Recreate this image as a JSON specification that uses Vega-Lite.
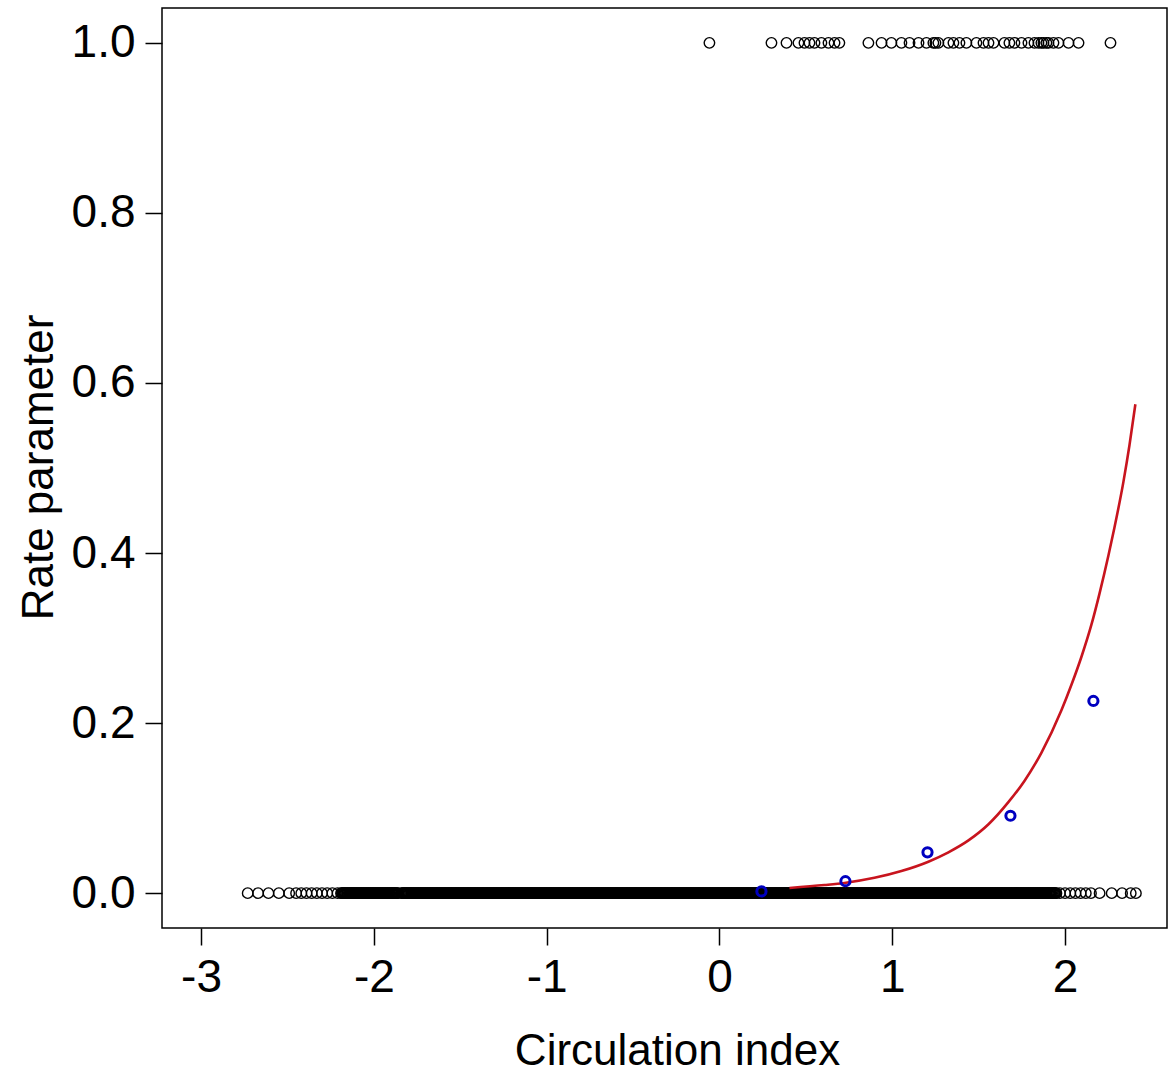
{
  "$schema": "https://vega.github.io/schema/vega-lite/v6.json",
  "autosize": {"type": "none"},
  "padding": {"left": 162, "top": 8, "right": 7, "bottom": 146},
  "width": 1005,
  "height": 920,
  "background": "white",
  "config": {
    "view": {"stroke": "black", "strokeWidth": 1.5},
    "font": "Liberation Sans"
  },
  "datasets": {
    "obs": [
      {"x":-0.058,"y":1},{"x":0.301,"y":1},{"x":0.388,"y":1},{"x":0.457,"y":1},{"x":0.492,"y":1},{"x":0.521,"y":1},{"x":0.55,"y":1},{"x":0.59,"y":1},{"x":0.631,"y":1},{"x":0.666,"y":1},{"x":0.694,"y":1},
      {"x":0.862,"y":1},{"x":0.938,"y":1},{"x":0.995,"y":1},{"x":1.053,"y":1},{"x":1.1,"y":1},{"x":1.152,"y":1},{"x":1.198,"y":1},{"x":1.238,"y":1},{"x":1.25,"y":1},{"x":1.267,"y":1},
      {"x":1.325,"y":1},{"x":1.354,"y":1},{"x":1.389,"y":1},{"x":1.429,"y":1},{"x":1.487,"y":1},{"x":1.528,"y":1},{"x":1.557,"y":1},{"x":1.586,"y":1},
      {"x":1.649,"y":1},{"x":1.678,"y":1},{"x":1.707,"y":1},{"x":1.748,"y":1},{"x":1.788,"y":1},{"x":1.823,"y":1},{"x":1.846,"y":1},{"x":1.863,"y":1},{"x":1.875,"y":1},{"x":1.892,"y":1},{"x":1.904,"y":1},{"x":1.933,"y":1},{"x":1.962,"y":1},{"x":2.02,"y":1},{"x":2.078,"y":1},{"x":2.263,"y":1},
      {"x":-2.73,"y":0},{"x":-2.67,"y":0},{"x":-2.61,"y":0},{"x":-2.55,"y":0},{"x":-2.49,"y":0},{"x":-2.45,"y":0},{"x":-2.42,"y":0},{"x":-2.39,"y":0},{"x":-2.36,"y":0},{"x":-2.33,"y":0},{"x":-2.3,"y":0},{"x":-2.27,"y":0},{"x":-2.24,"y":0},{"x":-2.21,"y":0},
      {"x":-2.19,"y":0},{"x":-2.18,"y":0},{"x":-2.17,"y":0},{"x":-2.16,"y":0},{"x":-2.15,"y":0},{"x":-2.14,"y":0},{"x":-2.13,"y":0},{"x":-2.12,"y":0},{"x":-2.11,"y":0},{"x":-2.1,"y":0},
      {"x":-2.09,"y":0},{"x":-2.08,"y":0},{"x":-2.07,"y":0},{"x":-2.06,"y":0},{"x":-2.05,"y":0},{"x":-2.04,"y":0},{"x":-2.03,"y":0},{"x":-2.02,"y":0},{"x":-2.01,"y":0},{"x":-2.0,"y":0},
      {"x":-1.99,"y":0},{"x":-1.98,"y":0},{"x":-1.97,"y":0},{"x":-1.96,"y":0},{"x":-1.95,"y":0},{"x":-1.94,"y":0},{"x":-1.93,"y":0},{"x":-1.92,"y":0},{"x":-1.91,"y":0},{"x":-1.9,"y":0},
      {"x":-1.89,"y":0},{"x":-1.88,"y":0},{"x":-1.87,"y":0},{"x":-1.86,"y":0},{"x":-1.84,"y":0},{"x":-1.83,"y":0},{"x":-1.82,"y":0},{"x":-1.81,"y":0},{"x":-1.8,"y":0},
      {"x":-1.79,"y":0},{"x":-1.78,"y":0},{"x":-1.77,"y":0},{"x":-1.76,"y":0},{"x":-1.75,"y":0},{"x":-1.74,"y":0},{"x":-1.73,"y":0},{"x":-1.72,"y":0},{"x":-1.71,"y":0},{"x":-1.7,"y":0},
      {"x":-1.69,"y":0},{"x":-1.68,"y":0},{"x":-1.67,"y":0},{"x":-1.66,"y":0},{"x":-1.65,"y":0},{"x":-1.64,"y":0},{"x":-1.63,"y":0},{"x":-1.62,"y":0},{"x":-1.61,"y":0},{"x":-1.6,"y":0},
      {"x":-1.59,"y":0},{"x":-1.58,"y":0},{"x":-1.57,"y":0},{"x":-1.56,"y":0},{"x":-1.55,"y":0},{"x":-1.54,"y":0},{"x":-1.53,"y":0},{"x":-1.52,"y":0},{"x":-1.51,"y":0},{"x":-1.5,"y":0},
      {"x":-1.49,"y":0},{"x":-1.48,"y":0},{"x":-1.47,"y":0},{"x":-1.46,"y":0},{"x":-1.45,"y":0},{"x":-1.44,"y":0},{"x":-1.43,"y":0},{"x":-1.42,"y":0},{"x":-1.41,"y":0},{"x":-1.4,"y":0},
      {"x":-1.39,"y":0},{"x":-1.38,"y":0},{"x":-1.37,"y":0},{"x":-1.36,"y":0},{"x":-1.35,"y":0},{"x":-1.34,"y":0},{"x":-1.33,"y":0},{"x":-1.32,"y":0},{"x":-1.31,"y":0},{"x":-1.3,"y":0},
      {"x":-1.29,"y":0},{"x":-1.28,"y":0},{"x":-1.27,"y":0},{"x":-1.26,"y":0},{"x":-1.25,"y":0},{"x":-1.24,"y":0},{"x":-1.23,"y":0},{"x":-1.22,"y":0},{"x":-1.21,"y":0},{"x":-1.2,"y":0},
      {"x":-1.19,"y":0},{"x":-1.18,"y":0},{"x":-1.17,"y":0},{"x":-1.16,"y":0},{"x":-1.15,"y":0},{"x":-1.14,"y":0},{"x":-1.13,"y":0},{"x":-1.12,"y":0},{"x":-1.11,"y":0},{"x":-1.1,"y":0},
      {"x":-1.09,"y":0},{"x":-1.08,"y":0},{"x":-1.07,"y":0},{"x":-1.06,"y":0},{"x":-1.05,"y":0},{"x":-1.04,"y":0},{"x":-1.03,"y":0},{"x":-1.02,"y":0},{"x":-1.01,"y":0},{"x":-1.0,"y":0},
      {"x":-0.99,"y":0},{"x":-0.98,"y":0},{"x":-0.97,"y":0},{"x":-0.96,"y":0},{"x":-0.95,"y":0},{"x":-0.94,"y":0},{"x":-0.93,"y":0},{"x":-0.92,"y":0},{"x":-0.91,"y":0},{"x":-0.9,"y":0},
      {"x":-0.89,"y":0},{"x":-0.88,"y":0},{"x":-0.87,"y":0},{"x":-0.86,"y":0},{"x":-0.85,"y":0},{"x":-0.84,"y":0},{"x":-0.83,"y":0},{"x":-0.82,"y":0},{"x":-0.81,"y":0},{"x":-0.8,"y":0},
      {"x":-0.79,"y":0},{"x":-0.78,"y":0},{"x":-0.77,"y":0},{"x":-0.76,"y":0},{"x":-0.75,"y":0},{"x":-0.74,"y":0},{"x":-0.73,"y":0},{"x":-0.72,"y":0},{"x":-0.71,"y":0},{"x":-0.7,"y":0},
      {"x":-0.69,"y":0},{"x":-0.68,"y":0},{"x":-0.67,"y":0},{"x":-0.66,"y":0},{"x":-0.65,"y":0},{"x":-0.64,"y":0},{"x":-0.63,"y":0},{"x":-0.62,"y":0},{"x":-0.61,"y":0},{"x":-0.6,"y":0},
      {"x":-0.59,"y":0},{"x":-0.58,"y":0},{"x":-0.57,"y":0},{"x":-0.56,"y":0},{"x":-0.55,"y":0},{"x":-0.54,"y":0},{"x":-0.53,"y":0},{"x":-0.52,"y":0},{"x":-0.51,"y":0},{"x":-0.5,"y":0},
      {"x":-0.49,"y":0},{"x":-0.48,"y":0},{"x":-0.47,"y":0},{"x":-0.46,"y":0},{"x":-0.45,"y":0},{"x":-0.44,"y":0},{"x":-0.43,"y":0},{"x":-0.42,"y":0},{"x":-0.41,"y":0},{"x":-0.4,"y":0},
      {"x":-0.39,"y":0},{"x":-0.38,"y":0},{"x":-0.37,"y":0},{"x":-0.36,"y":0},{"x":-0.35,"y":0},{"x":-0.34,"y":0},{"x":-0.33,"y":0},{"x":-0.32,"y":0},{"x":-0.31,"y":0},{"x":-0.3,"y":0},
      {"x":-0.29,"y":0},{"x":-0.28,"y":0},{"x":-0.27,"y":0},{"x":-0.26,"y":0},{"x":-0.25,"y":0},{"x":-0.24,"y":0},{"x":-0.23,"y":0},{"x":-0.22,"y":0},{"x":-0.21,"y":0},{"x":-0.2,"y":0},
      {"x":-0.19,"y":0},{"x":-0.18,"y":0},{"x":-0.17,"y":0},{"x":-0.16,"y":0},{"x":-0.15,"y":0},{"x":-0.14,"y":0},{"x":-0.13,"y":0},{"x":-0.12,"y":0},{"x":-0.11,"y":0},{"x":-0.1,"y":0},
      {"x":-0.09,"y":0},{"x":-0.08,"y":0},{"x":-0.07,"y":0},{"x":-0.06,"y":0},{"x":-0.05,"y":0},{"x":-0.04,"y":0},{"x":-0.03,"y":0},{"x":-0.02,"y":0},{"x":-0.01,"y":0},{"x":0.0,"y":0},
      {"x":0.01,"y":0},{"x":0.02,"y":0},{"x":0.03,"y":0},{"x":0.04,"y":0},{"x":0.05,"y":0},{"x":0.06,"y":0},{"x":0.07,"y":0},{"x":0.08,"y":0},{"x":0.09,"y":0},{"x":0.1,"y":0},
      {"x":0.11,"y":0},{"x":0.12,"y":0},{"x":0.13,"y":0},{"x":0.14,"y":0},{"x":0.15,"y":0},{"x":0.16,"y":0},{"x":0.17,"y":0},{"x":0.18,"y":0},{"x":0.19,"y":0},{"x":0.2,"y":0},
      {"x":0.21,"y":0},{"x":0.22,"y":0},{"x":0.23,"y":0},{"x":0.24,"y":0},{"x":0.25,"y":0},{"x":0.26,"y":0},{"x":0.27,"y":0},{"x":0.28,"y":0},{"x":0.29,"y":0},{"x":0.3,"y":0},
      {"x":0.31,"y":0},{"x":0.32,"y":0},{"x":0.33,"y":0},{"x":0.34,"y":0},{"x":0.35,"y":0},{"x":0.36,"y":0},{"x":0.37,"y":0},{"x":0.38,"y":0},{"x":0.39,"y":0},{"x":0.4,"y":0},
      {"x":0.41,"y":0},{"x":0.42,"y":0},{"x":0.43,"y":0},{"x":0.44,"y":0},{"x":0.45,"y":0},{"x":0.46,"y":0},{"x":0.47,"y":0},{"x":0.48,"y":0},{"x":0.49,"y":0},{"x":0.5,"y":0},
      {"x":0.51,"y":0},{"x":0.52,"y":0},{"x":0.53,"y":0},{"x":0.54,"y":0},{"x":0.55,"y":0},{"x":0.56,"y":0},{"x":0.57,"y":0},{"x":0.58,"y":0},{"x":0.59,"y":0},{"x":0.6,"y":0},
      {"x":0.61,"y":0},{"x":0.62,"y":0},{"x":0.63,"y":0},{"x":0.64,"y":0},{"x":0.65,"y":0},{"x":0.66,"y":0},{"x":0.67,"y":0},{"x":0.68,"y":0},{"x":0.69,"y":0},{"x":0.7,"y":0},
      {"x":0.71,"y":0},{"x":0.72,"y":0},{"x":0.73,"y":0},{"x":0.74,"y":0},{"x":0.75,"y":0},{"x":0.76,"y":0},{"x":0.77,"y":0},{"x":0.78,"y":0},{"x":0.79,"y":0},{"x":0.8,"y":0},
      {"x":0.81,"y":0},{"x":0.82,"y":0},{"x":0.83,"y":0},{"x":0.84,"y":0},{"x":0.85,"y":0},{"x":0.86,"y":0},{"x":0.87,"y":0},{"x":0.88,"y":0},{"x":0.89,"y":0},{"x":0.9,"y":0},
      {"x":0.91,"y":0},{"x":0.92,"y":0},{"x":0.93,"y":0},{"x":0.94,"y":0},{"x":0.95,"y":0},{"x":0.96,"y":0},{"x":0.97,"y":0},{"x":0.98,"y":0},{"x":0.99,"y":0},{"x":1.0,"y":0},
      {"x":1.01,"y":0},{"x":1.02,"y":0},{"x":1.03,"y":0},{"x":1.04,"y":0},{"x":1.05,"y":0},{"x":1.06,"y":0},{"x":1.07,"y":0},{"x":1.08,"y":0},{"x":1.09,"y":0},{"x":1.1,"y":0},
      {"x":1.11,"y":0},{"x":1.12,"y":0},{"x":1.13,"y":0},{"x":1.14,"y":0},{"x":1.15,"y":0},{"x":1.16,"y":0},{"x":1.17,"y":0},{"x":1.18,"y":0},{"x":1.19,"y":0},{"x":1.2,"y":0},
      {"x":1.21,"y":0},{"x":1.22,"y":0},{"x":1.23,"y":0},{"x":1.24,"y":0},{"x":1.25,"y":0},{"x":1.26,"y":0},{"x":1.27,"y":0},{"x":1.28,"y":0},{"x":1.29,"y":0},{"x":1.3,"y":0},
      {"x":1.31,"y":0},{"x":1.32,"y":0},{"x":1.33,"y":0},{"x":1.34,"y":0},{"x":1.35,"y":0},{"x":1.36,"y":0},{"x":1.37,"y":0},{"x":1.38,"y":0},{"x":1.39,"y":0},{"x":1.4,"y":0},
      {"x":1.41,"y":0},{"x":1.42,"y":0},{"x":1.43,"y":0},{"x":1.44,"y":0},{"x":1.45,"y":0},{"x":1.46,"y":0},{"x":1.47,"y":0},{"x":1.48,"y":0},{"x":1.49,"y":0},{"x":1.5,"y":0},
      {"x":1.51,"y":0},{"x":1.52,"y":0},{"x":1.53,"y":0},{"x":1.54,"y":0},{"x":1.55,"y":0},{"x":1.56,"y":0},{"x":1.57,"y":0},{"x":1.58,"y":0},{"x":1.59,"y":0},{"x":1.6,"y":0},
      {"x":1.61,"y":0},{"x":1.62,"y":0},{"x":1.63,"y":0},{"x":1.64,"y":0},{"x":1.65,"y":0},{"x":1.66,"y":0},{"x":1.67,"y":0},{"x":1.68,"y":0},{"x":1.69,"y":0},{"x":1.7,"y":0},
      {"x":1.71,"y":0},{"x":1.72,"y":0},{"x":1.73,"y":0},{"x":1.74,"y":0},{"x":1.75,"y":0},{"x":1.76,"y":0},{"x":1.77,"y":0},{"x":1.78,"y":0},{"x":1.79,"y":0},{"x":1.8,"y":0},
      {"x":1.81,"y":0},{"x":1.82,"y":0},{"x":1.83,"y":0},{"x":1.84,"y":0},{"x":1.85,"y":0},{"x":1.86,"y":0},{"x":1.87,"y":0},{"x":1.88,"y":0},{"x":1.89,"y":0},{"x":1.9,"y":0},
      {"x":1.91,"y":0},{"x":1.92,"y":0},{"x":1.93,"y":0},{"x":1.94,"y":0},{"x":1.95,"y":0},
      {"x":-2.185,"y":0},{"x":-2.175,"y":0},{"x":-2.165,"y":0},{"x":-2.155,"y":0},{"x":-2.145,"y":0},{"x":-2.135,"y":0},{"x":-2.125,"y":0},{"x":-2.115,"y":0},{"x":-2.105,"y":0},{"x":-2.095,"y":0},
      {"x":-2.085,"y":0},{"x":-2.075,"y":0},{"x":-2.065,"y":0},{"x":-2.055,"y":0},{"x":-2.045,"y":0},{"x":-2.035,"y":0},{"x":-2.025,"y":0},{"x":-2.015,"y":0},{"x":-2.005,"y":0},{"x":-1.995,"y":0},
      {"x":-1.985,"y":0},{"x":-1.975,"y":0},{"x":-1.965,"y":0},{"x":-1.955,"y":0},{"x":-1.945,"y":0},{"x":-1.935,"y":0},{"x":-1.925,"y":0},{"x":-1.915,"y":0},{"x":-1.905,"y":0},{"x":-1.895,"y":0},
      {"x":-1.885,"y":0},{"x":-1.875,"y":0},{"x":-1.865,"y":0},{"x":-1.835,"y":0},{"x":-1.825,"y":0},{"x":-1.815,"y":0},{"x":-1.805,"y":0},{"x":-1.795,"y":0},
      {"x":-1.785,"y":0},{"x":-1.775,"y":0},{"x":-1.765,"y":0},{"x":-1.755,"y":0},{"x":-1.745,"y":0},{"x":-1.735,"y":0},{"x":-1.725,"y":0},{"x":-1.715,"y":0},{"x":-1.705,"y":0},{"x":-1.695,"y":0},
      {"x":-1.685,"y":0},{"x":-1.675,"y":0},{"x":-1.665,"y":0},{"x":-1.655,"y":0},{"x":-1.645,"y":0},{"x":-1.635,"y":0},{"x":-1.625,"y":0},{"x":-1.615,"y":0},{"x":-1.605,"y":0},{"x":-1.595,"y":0},
      {"x":-1.585,"y":0},{"x":-1.575,"y":0},{"x":-1.565,"y":0},{"x":-1.555,"y":0},{"x":-1.545,"y":0},{"x":-1.535,"y":0},{"x":-1.525,"y":0},{"x":-1.515,"y":0},{"x":-1.505,"y":0},{"x":-1.495,"y":0},
      {"x":-1.485,"y":0},{"x":-1.475,"y":0},{"x":-1.465,"y":0},{"x":-1.455,"y":0},{"x":-1.445,"y":0},{"x":-1.435,"y":0},{"x":-1.425,"y":0},{"x":-1.415,"y":0},{"x":-1.405,"y":0},{"x":-1.395,"y":0},
      {"x":-1.385,"y":0},{"x":-1.375,"y":0},{"x":-1.365,"y":0},{"x":-1.355,"y":0},{"x":-1.345,"y":0},{"x":-1.335,"y":0},{"x":-1.325,"y":0},{"x":-1.315,"y":0},{"x":-1.305,"y":0},{"x":-1.295,"y":0},
      {"x":-1.285,"y":0},{"x":-1.275,"y":0},{"x":-1.265,"y":0},{"x":-1.255,"y":0},{"x":-1.245,"y":0},{"x":-1.235,"y":0},{"x":-1.225,"y":0},{"x":-1.215,"y":0},{"x":-1.205,"y":0},{"x":-1.195,"y":0},
      {"x":-1.185,"y":0},{"x":-1.175,"y":0},{"x":-1.165,"y":0},{"x":-1.155,"y":0},{"x":-1.145,"y":0},{"x":-1.135,"y":0},{"x":-1.125,"y":0},{"x":-1.115,"y":0},{"x":-1.105,"y":0},{"x":-1.095,"y":0},
      {"x":-1.085,"y":0},{"x":-1.075,"y":0},{"x":-1.065,"y":0},{"x":-1.055,"y":0},{"x":-1.045,"y":0},{"x":-1.035,"y":0},{"x":-1.025,"y":0},{"x":-1.015,"y":0},{"x":-1.005,"y":0},{"x":-0.995,"y":0},
      {"x":-0.985,"y":0},{"x":-0.975,"y":0},{"x":-0.965,"y":0},{"x":-0.955,"y":0},{"x":-0.945,"y":0},{"x":-0.935,"y":0},{"x":-0.925,"y":0},{"x":-0.915,"y":0},{"x":-0.905,"y":0},{"x":-0.895,"y":0},
      {"x":-0.885,"y":0},{"x":-0.875,"y":0},{"x":-0.865,"y":0},{"x":-0.855,"y":0},{"x":-0.845,"y":0},{"x":-0.835,"y":0},{"x":-0.825,"y":0},{"x":-0.815,"y":0},{"x":-0.805,"y":0},{"x":-0.795,"y":0},
      {"x":-0.785,"y":0},{"x":-0.775,"y":0},{"x":-0.765,"y":0},{"x":-0.755,"y":0},{"x":-0.745,"y":0},{"x":-0.735,"y":0},{"x":-0.725,"y":0},{"x":-0.715,"y":0},{"x":-0.705,"y":0},{"x":-0.695,"y":0},
      {"x":-0.685,"y":0},{"x":-0.675,"y":0},{"x":-0.665,"y":0},{"x":-0.655,"y":0},{"x":-0.645,"y":0},{"x":-0.635,"y":0},{"x":-0.625,"y":0},{"x":-0.615,"y":0},{"x":-0.605,"y":0},{"x":-0.595,"y":0},
      {"x":-0.585,"y":0},{"x":-0.575,"y":0},{"x":-0.565,"y":0},{"x":-0.555,"y":0},{"x":-0.545,"y":0},{"x":-0.535,"y":0},{"x":-0.525,"y":0},{"x":-0.515,"y":0},{"x":-0.505,"y":0},{"x":-0.495,"y":0},
      {"x":-0.485,"y":0},{"x":-0.475,"y":0},{"x":-0.465,"y":0},{"x":-0.455,"y":0},{"x":-0.445,"y":0},{"x":-0.435,"y":0},{"x":-0.425,"y":0},{"x":-0.415,"y":0},{"x":-0.405,"y":0},{"x":-0.395,"y":0},
      {"x":-0.385,"y":0},{"x":-0.375,"y":0},{"x":-0.365,"y":0},{"x":-0.355,"y":0},{"x":-0.345,"y":0},{"x":-0.335,"y":0},{"x":-0.325,"y":0},{"x":-0.315,"y":0},{"x":-0.305,"y":0},{"x":-0.295,"y":0},
      {"x":-0.285,"y":0},{"x":-0.275,"y":0},{"x":-0.265,"y":0},{"x":-0.255,"y":0},{"x":-0.245,"y":0},{"x":-0.235,"y":0},{"x":-0.225,"y":0},{"x":-0.215,"y":0},{"x":-0.205,"y":0},{"x":-0.195,"y":0},
      {"x":-0.185,"y":0},{"x":-0.175,"y":0},{"x":-0.165,"y":0},{"x":-0.155,"y":0},{"x":-0.145,"y":0},{"x":-0.135,"y":0},{"x":-0.125,"y":0},{"x":-0.115,"y":0},{"x":-0.105,"y":0},{"x":-0.095,"y":0},
      {"x":-0.085,"y":0},{"x":-0.075,"y":0},{"x":-0.065,"y":0},{"x":-0.055,"y":0},{"x":-0.045,"y":0},{"x":-0.035,"y":0},{"x":-0.025,"y":0},{"x":-0.015,"y":0},{"x":-0.005,"y":0},{"x":0.005,"y":0},
      {"x":0.015,"y":0},{"x":0.025,"y":0},{"x":0.035,"y":0},{"x":0.045,"y":0},{"x":0.055,"y":0},{"x":0.065,"y":0},{"x":0.075,"y":0},{"x":0.085,"y":0},{"x":0.095,"y":0},{"x":0.105,"y":0},
      {"x":0.115,"y":0},{"x":0.125,"y":0},{"x":0.135,"y":0},{"x":0.145,"y":0},{"x":0.155,"y":0},{"x":0.165,"y":0},{"x":0.175,"y":0},{"x":0.185,"y":0},{"x":0.195,"y":0},{"x":0.205,"y":0},
      {"x":0.215,"y":0},{"x":0.225,"y":0},{"x":0.235,"y":0},{"x":0.245,"y":0},{"x":0.255,"y":0},{"x":0.265,"y":0},{"x":0.275,"y":0},{"x":0.285,"y":0},{"x":0.295,"y":0},{"x":0.305,"y":0},
      {"x":0.315,"y":0},{"x":0.325,"y":0},{"x":0.335,"y":0},{"x":0.345,"y":0},{"x":0.355,"y":0},{"x":0.365,"y":0},{"x":0.375,"y":0},{"x":0.385,"y":0},{"x":0.395,"y":0},{"x":0.405,"y":0},
      {"x":0.415,"y":0},{"x":0.425,"y":0},{"x":0.435,"y":0},{"x":0.445,"y":0},{"x":0.455,"y":0},{"x":0.465,"y":0},{"x":0.475,"y":0},{"x":0.485,"y":0},{"x":0.495,"y":0},{"x":0.505,"y":0},
      {"x":0.515,"y":0},{"x":0.525,"y":0},{"x":0.535,"y":0},{"x":0.545,"y":0},{"x":0.555,"y":0},{"x":0.565,"y":0},{"x":0.575,"y":0},{"x":0.585,"y":0},{"x":0.595,"y":0},{"x":0.605,"y":0},
      {"x":0.615,"y":0},{"x":0.625,"y":0},{"x":0.635,"y":0},{"x":0.645,"y":0},{"x":0.655,"y":0},{"x":0.665,"y":0},{"x":0.675,"y":0},{"x":0.685,"y":0},{"x":0.695,"y":0},{"x":0.705,"y":0},
      {"x":0.715,"y":0},{"x":0.725,"y":0},{"x":0.735,"y":0},{"x":0.745,"y":0},{"x":0.755,"y":0},{"x":0.765,"y":0},{"x":0.775,"y":0},{"x":0.785,"y":0},{"x":0.795,"y":0},{"x":0.805,"y":0},
      {"x":0.815,"y":0},{"x":0.825,"y":0},{"x":0.835,"y":0},{"x":0.845,"y":0},{"x":0.855,"y":0},{"x":0.865,"y":0},{"x":0.875,"y":0},{"x":0.885,"y":0},{"x":0.895,"y":0},{"x":0.905,"y":0},
      {"x":0.915,"y":0},{"x":0.925,"y":0},{"x":0.935,"y":0},{"x":0.945,"y":0},{"x":0.955,"y":0},{"x":0.965,"y":0},{"x":0.975,"y":0},{"x":0.985,"y":0},{"x":0.995,"y":0},{"x":1.005,"y":0},
      {"x":1.015,"y":0},{"x":1.025,"y":0},{"x":1.035,"y":0},{"x":1.045,"y":0},{"x":1.055,"y":0},{"x":1.065,"y":0},{"x":1.075,"y":0},{"x":1.085,"y":0},{"x":1.095,"y":0},{"x":1.105,"y":0},
      {"x":1.115,"y":0},{"x":1.125,"y":0},{"x":1.135,"y":0},{"x":1.145,"y":0},{"x":1.155,"y":0},{"x":1.165,"y":0},{"x":1.175,"y":0},{"x":1.185,"y":0},{"x":1.195,"y":0},{"x":1.205,"y":0},
      {"x":1.215,"y":0},{"x":1.225,"y":0},{"x":1.235,"y":0},{"x":1.245,"y":0},{"x":1.255,"y":0},{"x":1.265,"y":0},{"x":1.275,"y":0},{"x":1.285,"y":0},{"x":1.295,"y":0},{"x":1.305,"y":0},
      {"x":1.315,"y":0},{"x":1.325,"y":0},{"x":1.335,"y":0},{"x":1.345,"y":0},{"x":1.355,"y":0},{"x":1.365,"y":0},{"x":1.375,"y":0},{"x":1.385,"y":0},{"x":1.395,"y":0},{"x":1.405,"y":0},
      {"x":1.415,"y":0},{"x":1.425,"y":0},{"x":1.435,"y":0},{"x":1.445,"y":0},{"x":1.455,"y":0},{"x":1.465,"y":0},{"x":1.475,"y":0},{"x":1.485,"y":0},{"x":1.495,"y":0},{"x":1.505,"y":0},
      {"x":1.515,"y":0},{"x":1.525,"y":0},{"x":1.535,"y":0},{"x":1.545,"y":0},{"x":1.555,"y":0},{"x":1.565,"y":0},{"x":1.575,"y":0},{"x":1.585,"y":0},{"x":1.595,"y":0},{"x":1.605,"y":0},
      {"x":1.615,"y":0},{"x":1.625,"y":0},{"x":1.635,"y":0},{"x":1.645,"y":0},{"x":1.655,"y":0},{"x":1.665,"y":0},{"x":1.675,"y":0},{"x":1.685,"y":0},{"x":1.695,"y":0},{"x":1.705,"y":0},
      {"x":1.715,"y":0},{"x":1.725,"y":0},{"x":1.735,"y":0},{"x":1.745,"y":0},{"x":1.755,"y":0},{"x":1.765,"y":0},{"x":1.775,"y":0},{"x":1.785,"y":0},{"x":1.795,"y":0},{"x":1.805,"y":0},
      {"x":1.815,"y":0},{"x":1.825,"y":0},{"x":1.835,"y":0},{"x":1.845,"y":0},{"x":1.855,"y":0},{"x":1.865,"y":0},{"x":1.875,"y":0},{"x":1.885,"y":0},{"x":1.895,"y":0},{"x":1.905,"y":0},
      {"x":1.915,"y":0},{"x":1.925,"y":0},{"x":1.935,"y":0},{"x":1.945,"y":0},
      {"x":1.97,"y":0},{"x":2.0,"y":0},{"x":2.03,"y":0},{"x":2.06,"y":0},{"x":2.09,"y":0},{"x":2.12,"y":0},{"x":2.15,"y":0},{"x":2.2,"y":0},{"x":2.27,"y":0},{"x":2.33,"y":0},{"x":2.38,"y":0},{"x":2.41,"y":0}
    ],
    "fit": [
      {"x":0.405,"y":0.006},{"x":0.608,"y":0.0095},{"x":0.723,"y":0.012},{"x":0.897,"y":0.018},{"x":1.053,"y":0.026},{"x":1.209,"y":0.037},{"x":1.325,"y":0.048},{"x":1.441,"y":0.062},{"x":1.557,"y":0.081},{"x":1.672,"y":0.107},{"x":1.765,"y":0.132},{"x":1.863,"y":0.165},{"x":1.979,"y":0.215},{"x":2.037,"y":0.245},{"x":2.095,"y":0.278},{"x":2.153,"y":0.316},{"x":2.199,"y":0.352},{"x":2.251,"y":0.397},{"x":2.286,"y":0.43},{"x":2.338,"y":0.484},{"x":2.373,"y":0.527},{"x":2.407,"y":0.575}
    ],
    "bins": [
      {"x":0.243,"y":0.002},{"x":0.729,"y":0.014},{"x":1.204,"y":0.048},{"x":1.684,"y":0.091},{"x":2.164,"y":0.226}
    ]
  },
  "encoding": {
    "x": {"field": "x", "type": "quantitative",
      "scale": {"domain": [-3.226, 2.59], "nice": false, "zero": false},
      "axis": {"values": [-3, -2, -1, 0, 1, 2], "labelExpr": "'' + datum.value", "grid": false, "domain": false,
        "tickColor": "black", "tickSize": 17, "tickWidth": 1.5,
        "labelFont": "Liberation Sans", "labelFontSize": 46, "labelColor": "black", "labelPadding": 10,
        "title": "Circulation index", "titleFont": "Liberation Sans", "titleFontSize": 44, "titleFontWeight": "normal", "titleColor": "black",
        "titleX": 515, "titleY": 136, "titleBaseline": "alphabetic", "titleAlign": "center"}},
    "y": {"field": "y", "type": "quantitative",
      "scale": {"domain": [-0.041, 1.041], "nice": false, "zero": false},
      "axis": {"values": [0, 0.2, 0.4, 0.6, 0.8, 1.0], "format": ".1f", "grid": false, "domain": false,
        "tickColor": "black", "tickSize": 17, "tickWidth": 1.5,
        "labelFont": "Liberation Sans", "labelFontSize": 46, "labelColor": "black", "labelPadding": 10,
        "title": "Rate parameter", "titleFont": "Liberation Sans", "titleFontSize": 44, "titleFontWeight": "normal", "titleColor": "black",
        "titleX": -110, "titleY": 459, "titleBaseline": "alphabetic", "titleAlign": "center", "titleAngle": -90}}
  },
  "layer": [
    {"data": {"name": "obs"},
     "mark": {"type": "point", "shape": "circle", "filled": false, "stroke": "black", "strokeWidth": 1.4, "size": 110, "opacity": 1}},
    {"data": {"name": "fit"},
     "mark": {"type": "line", "color": "#c8141e", "strokeWidth": 2.6, "interpolate": "monotone"}},
    {"data": {"name": "bins"},
     "mark": {"type": "point", "shape": "circle", "filled": false, "stroke": "#0000c0", "strokeWidth": 3, "size": 85, "opacity": 1}}
  ]
}
